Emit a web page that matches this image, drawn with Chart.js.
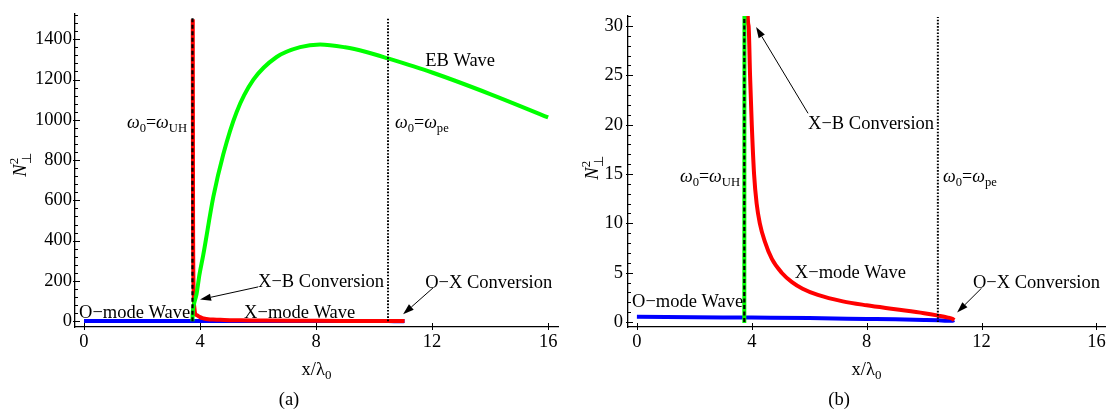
<!DOCTYPE html>
<html><head><meta charset="utf-8">
<script src="https://cdn.jsdelivr.net/npm/chart.js@4.4.0/dist/chart.umd.min.js"></script>
<style>
html,body{margin:0;padding:0;background:#fff;}
#wrap{position:relative;width:1112px;height:416px;overflow:hidden;background:#fff;}
canvas{position:absolute;top:0;}
</style></head><body>
<div id="wrap">
<canvas id="ca" width="570" height="416" style="left:0px"></canvas>
<canvas id="cb" width="556" height="416" style="left:556px"></canvas>
</div>
<script>
// ---------- data ----------
const oModeX = [0, 2, 4, 6, 8, 9, 10, 10.5, 10.8, 11.0, 11.05];
const oModeY = [0.55, 0.5, 0.45, 0.4, 0.32, 0.28, 0.22, 0.18, 0.14, 0.14, 0.2];

const xModeX = [3.75, 3.76, 3.78, 3.81, 3.86, 3.89, 3.94, 4.0, 4.08, 4.17, 4.28, 4.45, 4.7, 5.04, 5.4, 5.77, 6.3, 7.17, 8.0, 9.0, 10.0, 10.5, 10.8, 11.0, 11.05];
const xModeY = [1500, 500, 150, 60, 31, 30, 25, 20, 15, 12, 10, 8.2, 6.4, 5.0, 4.05, 3.38, 2.75, 2.1, 1.7, 1.3, 0.9, 0.65, 0.48, 0.32, 0.2];

const ebX = [3.74, 3.745, 3.76, 3.8, 3.88, 3.98, 4.11, 4.46, 4.8, 5.26, 5.84, 6.64, 7.45, 8.14, 9.0, 9.7, 10.48, 12, 14, 16];
const ebY = [-0.1, 31, 60, 90, 134, 231, 328, 618, 828, 1038, 1199, 1312, 1361, 1374, 1360, 1338, 1305, 1235, 1128, 1012];

const uhX = [3.74, 3.74];
const peX = [10.48, 10.48];
const guideYa = [0, 1505];
const guideYb = [0, 30.9];

const xTickStep = 4;
const yTickStepA = 200, yMinorA = 40;
const yTickStepB = 5, yMinorB = 1;

const labelsA = [
  {x: 3.55, y: 988, align: 'right', parts: 'omegaUH'},
  {x: 10.72, y: 988, align: 'left', parts: 'omegaPE'},
  {x: 11.76, y: 1298, align: 'left', text: 'EB Wave'},
  {x: 6.0, y: 199, align: 'left', text: 'X\u2212B Conversion'},
  {x: -0.17, y: 44, align: 'left', text: 'O\u2212mode Wave'},
  {x: 5.52, y: 44, align: 'left', text: 'X\u2212mode Wave'},
  {x: 11.76, y: 194, align: 'left', text: 'O\u2212X Conversion'}
];
const arrowsA = [[6.0, 170, 4.0, 107], [12.03, 165, 11.0, 34]];

const labelsB = [
  {x: 3.59, y: 14.75, align: 'right', parts: 'omegaUH'},
  {x: 10.66, y: 14.75, align: 'left', parts: 'omegaPE'},
  {x: 5.96, y: 20.17, align: 'left', text: 'X\u2212B Conversion'},
  {x: 5.5, y: 5.1, align: 'left', text: 'X\u2212mode Wave'},
  {x: -0.17, y: 2.16, align: 'left', text: 'O\u2212mode Wave'},
  {x: 11.7, y: 4.12, align: 'left', text: 'O\u2212X Conversion'}
];
const arrowsB = [[5.96, 21.15, 4.15, 29.9], [12.0, 3.43, 11.15, 0.97]];

// ---------- helpers ----------
const SERIF = '"Liberation Serif","Times New Roman",serif';
const fnt = (s, it) => (it ? 'italic ' : '') + s + 'px ' + SERIF;
const RICH = {
  omegaUH: [{t:'\u03c9', it:true}, {t:'0', sub:true}, {t:'='}, {t:'\u03c9', it:true}, {t:'UH', sub:true}],
  omegaPE: [{t:'\u03c9', it:true}, {t:'0', sub:true}, {t:'='}, {t:'\u03c9', it:true}, {t:'pe', sub:true}]
};
function partsW(ctx, parts, size) {
  let w = 0;
  for (const p of parts) {
    if (p.stack) { ctx.font = fnt(size*0.7); w += Math.max(ctx.measureText(p.sup).width, ctx.measureText(p.subs).width); }
    else { ctx.font = fnt(p.sub ? size*0.7 : size, p.it); w += ctx.measureText(p.t).width; }
  }
  return w;
}
function drawRich(ctx, parts, x, y, size, align) {
  const w = partsW(ctx, parts, size);
  let cx = align === 'right' ? x - w : (align === 'center' ? x - w/2 : x);
  const base = y + size*0.33;
  ctx.textBaseline = 'alphabetic'; ctx.textAlign = 'left';
  for (const p of parts) {
    if (p.stack) {
      ctx.font = fnt(size*0.7);
      ctx.fillText(p.sup, cx, base - size*0.45);
      ctx.fillText(p.subs, cx, base + size*0.25);
      cx += Math.max(ctx.measureText(p.sup).width, ctx.measureText(p.subs).width);
    } else {
      const s = p.sub ? size*0.7 : size;
      ctx.font = fnt(s, p.it);
      ctx.fillText(p.t, cx, base + (p.sub ? size*0.22 : 0));
      cx += ctx.measureText(p.t).width;
    }
  }
}
function arrow(ctx, x1, y1, x2, y2) {
  const a = Math.atan2(y2 - y1, x2 - x1), L = 11, H = 3.6;
  const bx = x2 - L*Math.cos(a), by = y2 - L*Math.sin(a);
  ctx.beginPath(); ctx.moveTo(x1, y1); ctx.lineTo(bx, by); ctx.lineWidth = 1; ctx.strokeStyle = '#000'; ctx.stroke();
  ctx.beginPath(); ctx.moveTo(x2, y2);
  ctx.lineTo(bx + H*Math.sin(a), by - H*Math.cos(a));
  ctx.lineTo(bx - H*Math.sin(a), by + H*Math.cos(a));
  ctx.closePath(); ctx.fillStyle = '#000'; ctx.fill();
}
const pts = (xs, ys) => xs.map((x, i) => ({x, y: ys[i]}));

function makePlugin(cfg) {
  return {
    id: 'annot' + cfg.tag,
    afterDraw(chart) {
      const ctx = chart.ctx, xs = chart.scales.x, ys = chart.scales.y, ca = chart.chartArea;
      ctx.save();
      ctx.strokeStyle = '#000'; ctx.fillStyle = '#000'; ctx.lineWidth = 1;
      // ticks
      ys.ticks.forEach(t => {
        const py = Math.round(ys.getPixelForValue(t.value)) + 0.5;
        ctx.beginPath(); ctx.moveTo(ca.left - 2, py); ctx.lineTo(ca.left + 5, py); ctx.stroke();
      });
      for (let v = Math.ceil(ys.min / cfg.minor) * cfg.minor; v <= ys.max; v += cfg.minor) {
        const py = Math.round(ys.getPixelForValue(v)) + 0.5;
        ctx.beginPath(); ctx.moveTo(ca.left - 1, py); ctx.lineTo(ca.left + 3, py); ctx.stroke();
      }
      xs.ticks.forEach(t => {
        const px = Math.round(xs.getPixelForValue(t.value)) + 0.5;
        ctx.beginPath(); ctx.moveTo(px, ca.bottom - 4); ctx.lineTo(px, ca.bottom + 3); ctx.stroke();
      });
      // labels
      for (const l of cfg.labels) {
        const px = xs.getPixelForValue(l.x), py = ys.getPixelForValue(l.y);
        if (l.parts) drawRich(ctx, RICH[l.parts], px, py, 18, l.align);
        else drawRich(ctx, [{t: l.text}], px, py, 18.5, l.align);
      }
      for (const a of cfg.arrows) {
        arrow(ctx, xs.getPixelForValue(a[0]), ys.getPixelForValue(a[1]), xs.getPixelForValue(a[2]), ys.getPixelForValue(a[3]));
      }
      // axis titles
      const mid = (ca.left + ca.right) / 2;
      drawRich(ctx, [{t:'x/\u03bb'}, {t:'0', sub:true}], mid, 369, 18.5, 'center');
      drawRich(ctx, [{t:'(' + cfg.tag + ')'}], chart.width/2 + cfg.capDx, 399, 18.5, 'center');
      ctx.save();
      ctx.translate(cfg.yTitleX, cfg.yTitleY); ctx.rotate(-Math.PI/2);
      drawRich(ctx, [{t:'N', it:true}, {stack:true, sup:'2', subs:'\u22a5'}], 0, 0, 18.5, 'center');
      ctx.restore();
      ctx.restore();
    }
  };
}

function makeChart(id, cfg) {
  const lineDs = (xs, ys, color, w) => ({data: pts(xs, ys), borderColor: color, borderWidth: w, showLine: true, pointRadius: 0, fill: false, cubicInterpolationMode: 'monotone'});
  const guide = (xs, ys, dash, w) => ({data: pts(xs, ys), borderColor: '#000', borderWidth: w, borderDash: dash, showLine: true, pointRadius: 0, fill: false});
  return new Chart(document.getElementById(id), {
    type: 'scatter',
    data: { datasets: [
      guide(uhX, cfg.guideY, [4, 2.5], 2.2),
      guide(peX, cfg.guideY, [1.6, 1.6], 2),
      lineDs(ebX, ebY, '#00ff00', 4),
      lineDs(xModeX, xModeY, '#ff0000', 4),
      lineDs(oModeX, oModeY, '#0000ff', 4)
    ]},
    options: {
      responsive: false, animation: false, devicePixelRatio: 1,
      layout: { padding: { left: 0, top: cfg.top, right: cfg.right, bottom: 0 } },
      plugins: { legend: {display: false}, tooltip: {enabled: false} },
      scales: {
        x: {
          type: 'linear', min: -0.31, max: cfg.xmax,
          grid: {display: false, drawTicks: false}, border: {display: true, color: '#000', width: 1.3},
          ticks: {stepSize: xTickStep, includeBounds: false, autoSkip: false, maxRotation: 0, color: '#000', padding: 4,
                  font: {family: SERIF, size: 18.5}, callback: v => String(v)},
          afterFit: s => { s.height = 416 - 327; }
        },
        y: {
          type: 'linear', min: cfg.ymin, max: cfg.ymax,
          grid: {display: false, drawTicks: false}, border: {display: true, color: '#000', width: 1.3},
          ticks: {stepSize: cfg.ystep, includeBounds: false, color: '#000', padding: cfg.ypad,
                  font: {family: SERIF, size: 18.5}, callback: v => String(v)},
          afterFit: s => { s.width = cfg.yw; }
        }
      }
    },
    plugins: [makePlugin(cfg)]
  });
}

makeChart('ca', {tag: 'a', top: 5, right: 12, yw: 75, ypad: 3, xmax: 16.34, ymin: -29, ymax: 1525, ystep: yTickStepA,
  minor: yMinorA, guideY: guideYa, labels: labelsA, arrows: arrowsA, yTitleX: 20, yTitleY: 165, capDx: 4});
makeChart('cb', {tag: 'b', top: 7, right: 7, yw: 72, ypad: 5, xmax: 16.3, ymin: -0.5, ymax: 31, ystep: yTickStepB,
  minor: yMinorB, guideY: guideYb, labels: labelsB, arrows: arrowsB, yTitleX: 36, yTitleY: 168, capDx: 5});
</script>
</body></html>
